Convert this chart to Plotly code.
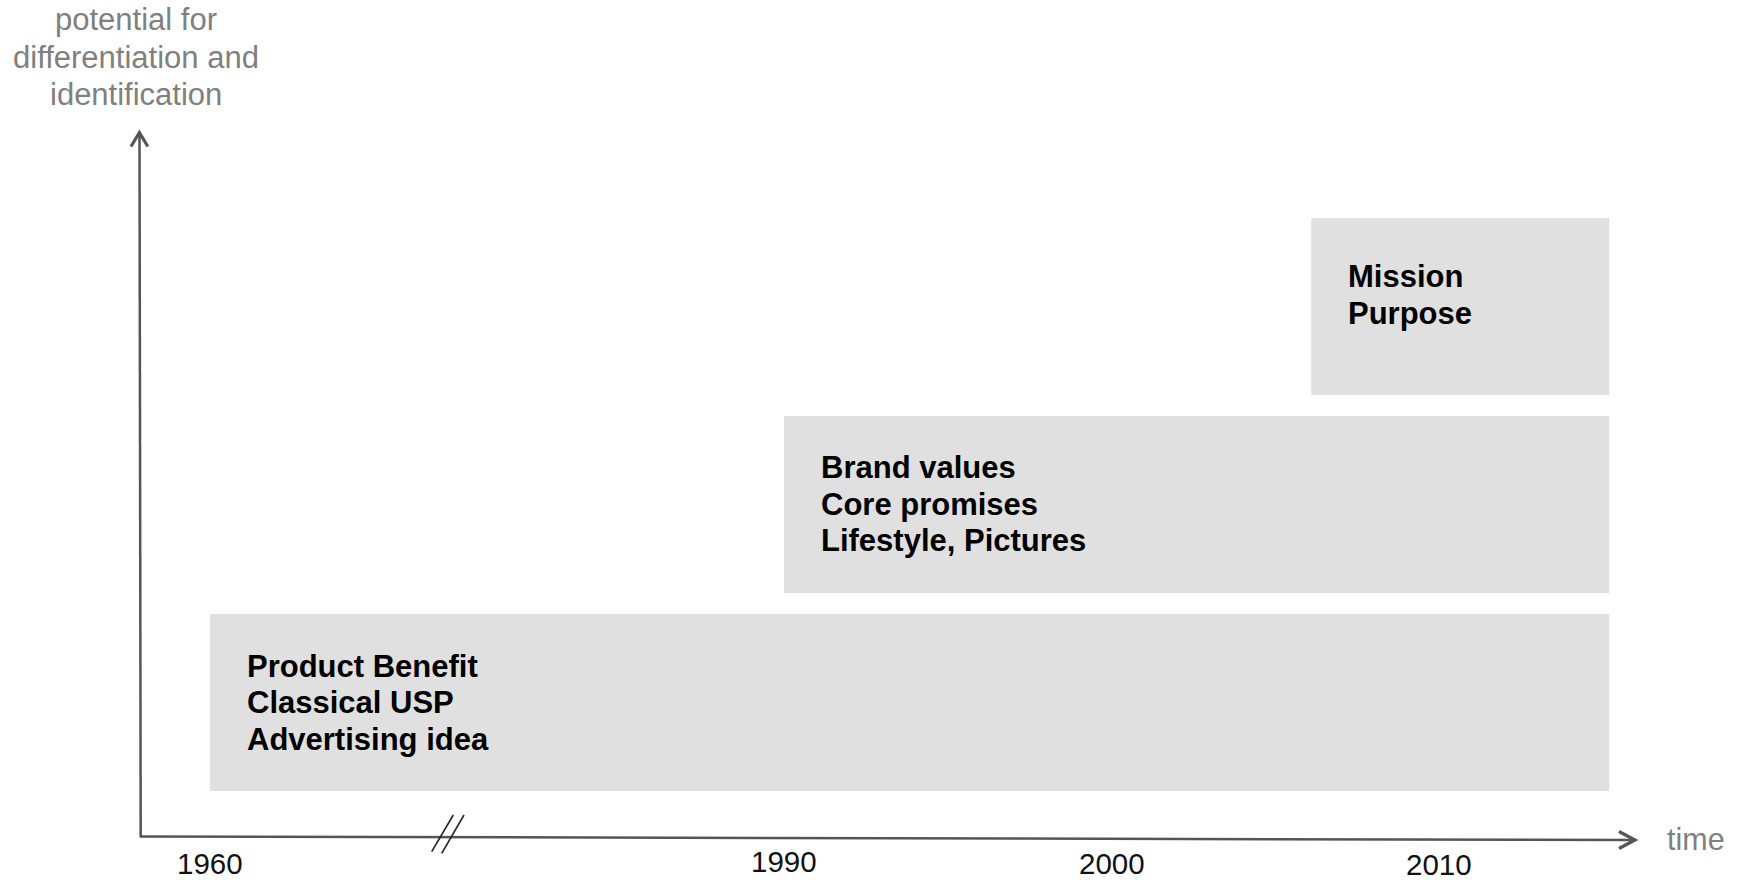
import plotly.graph_objects as go

W, H = 1741, 880

# ---------------- data ----------------
tick_years = [1960, 1990, 2000, 2010]
tick_labels = ["1960", "1990", "2000", "2010"]

stage_levels = [1, 2, 3]
stage_start = [1960, 1990, 2006.1]
stage_end = [2015.2, 2015.2, 2015.2]
stage_lines = [
    ["Product Benefit", "Classical USP", "Advertising idea"],
    ["Brand values", "Core promises", "Lifestyle, Pictures"],
    ["Mission", "Purpose"],
]
y_title_lines = ["potential for", "differentiation and", "identification"]
x_title = "time"

# ---------------- scales ----------------
BREAK_YEAR = 1990          # time axis is compressed before the break
COMPRESS = 0.5843
def scale(year):
    return year if year >= BREAK_YEAR else BREAK_YEAR - (BREAK_YEAR - year) * COMPRESS

PX_PER_YEAR = 32.75
X0 = BREAK_YEAR - 784 / PX_PER_YEAR
X1 = X0 + W / PX_PER_YEAR
PX_PER_LEVEL = 198.0
Y_TOP = 1 + 702.5 / PX_PER_LEVEL
Y_BOT = 1 - (H - 702.5) / PX_PER_LEVEL
BAR_W = 177 / PX_PER_LEVEL

def px(x):
    return x / W
def py(y):
    return 1 - y / H

FONT = "Liberation Sans, Arial, sans-serif"
GRAY_TXT = "#808080"
AXIS_COL = "#555555"

fig = go.Figure()

# stage boxes
fig.add_trace(go.Bar(
    orientation="h",
    y=stage_levels,
    base=[scale(s) for s in stage_start],
    x=[scale(e) - scale(s) for s, e in zip(stage_start, stage_end)],
    width=BAR_W,
    marker=dict(color="#e0e0e0", line=dict(width=0)),
    hoverinfo="skip",
    showlegend=False,
))

annotations = []
# stage texts (first-line offset from box top, px)
text_top = [52, 51.5, 58.5]
for lvl, s, lines, top in zip(stage_levels, stage_start, stage_lines, text_top):
    for i, t in enumerate(lines):
        annotations.append(dict(
            x=scale(s) + 35 / PX_PER_YEAR, xref="x",
            y=lvl + BAR_W / 2 - (top + i * 36.5) / PX_PER_LEVEL, yref="y",
            text="<b>" + t + "</b>", showarrow=False,
            xanchor="left", yanchor="middle",
            font=dict(family=FONT, size=31, color="#000000"),
        ))

# tick labels
tick_y = [863, 861.5, 863, 864]
for yr, lab, ty in zip(tick_years, tick_labels, tick_y):
    annotations.append(dict(
        x=scale(yr), xref="x", y=py(ty), yref="paper",
        text=lab, showarrow=False, xanchor="center", yanchor="middle",
        font=dict(family=FONT, size=29.5, color="#111111"),
    ))

# y title
for i, t in enumerate(y_title_lines):
    annotations.append(dict(
        x=px(136), xref="paper", y=py(20 + i * 37), yref="paper",
        text=t, showarrow=False, xanchor="center", yanchor="middle",
        font=dict(family=FONT, size=31, color=GRAY_TXT),
    ))

# x title
annotations.append(dict(
    x=px(1665), xref="paper", y=py(839), yref="paper",
    text=x_title, showarrow=False, xanchor="left", yanchor="middle",
    font=dict(family=FONT, size=30.5, color=GRAY_TXT),
))

shapes = []
def seg(x0, y0, x1, y1, color, width):
    shapes.append(dict(type="line", xref="paper", yref="paper",
                       x0=px(x0), y0=py(y0), x1=px(x1), y1=py(y1),
                       line=dict(color=color, width=width)))

def path(points, color, width):
    d = "M " + " L ".join(f"{px(x)},{py(y)}" for x, y in points)
    shapes.append(dict(type="path", xref="paper", yref="paper", path=d,
                       line=dict(color=color, width=width)))

# axes
seg(140.7, 836.5, 1633, 840, AXIS_COL, 2.5)
seg(140.7, 837.5, 139.5, 133, AXIS_COL, 2.5)
# arrow heads
path([(1619, 831.5), (1635, 840), (1619, 848.5)], AXIS_COL, 3.2)
path([(131, 146.5), (139.4, 132.5), (147.8, 146.5)], AXIS_COL, 3.2)
# axis break mark
seg(431.7, 851.7, 453.3, 815, "#222222", 1.6)
seg(441.7, 853.3, 464, 815, "#222222", 1.6)

fig.update_layout(
    width=W, height=H,
    margin=dict(l=0, r=0, t=0, b=0),
    paper_bgcolor="white", plot_bgcolor="white",
    xaxis=dict(range=[X0, X1], visible=False, fixedrange=True),
    yaxis=dict(range=[Y_BOT, Y_TOP], visible=False, fixedrange=True),
    annotations=annotations,
    shapes=shapes,
    showlegend=False,
    hovermode=False,
)

fig.write_html(
    "out.html",
    config={"displayModeBar": False},
    post_script="document.body.style.margin='0px';document.body.style.overflow='hidden';",
)
